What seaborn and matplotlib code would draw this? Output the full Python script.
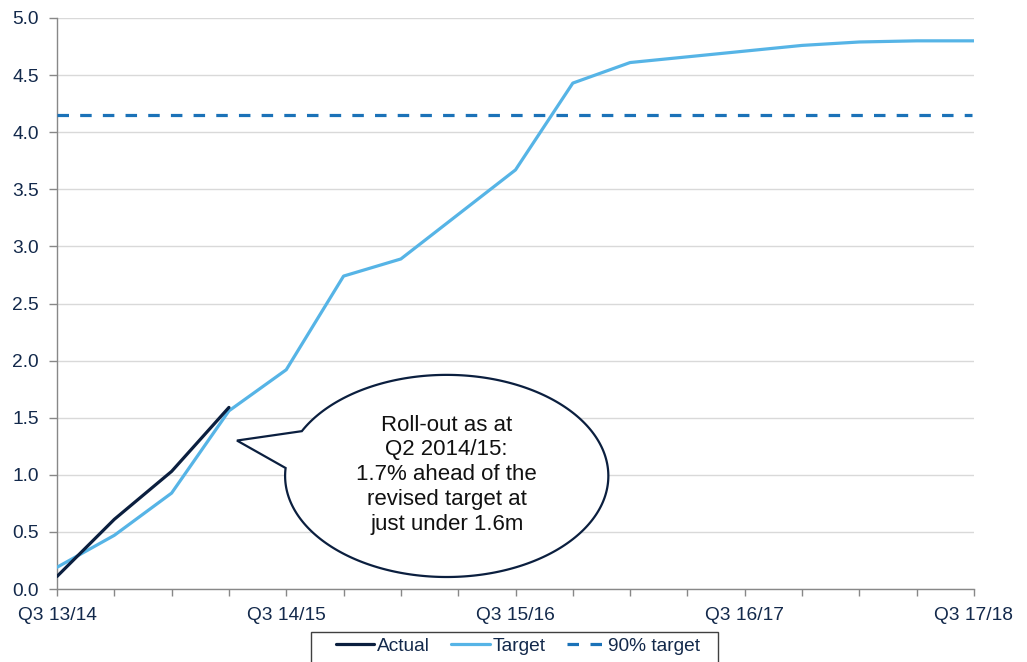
import numpy as np
import pandas as pd
import matplotlib
matplotlib.use("Agg")
import matplotlib.pyplot as plt
from matplotlib.patches import Polygon, Rectangle
from matplotlib.lines import Line2D
import seaborn as sns

# Quarterly roll-out, millions
quarters = ["Q3 13/14", "Q4 13/14", "Q1 14/15", "Q2 14/15", "Q3 14/15", "Q4 14/15",
            "Q1 15/16", "Q2 15/16", "Q3 15/16", "Q4 15/16", "Q1 16/17", "Q2 16/17",
            "Q3 16/17", "Q4 16/17", "Q1 17/18", "Q2 17/18", "Q3 17/18"]
actual = [0.11, 0.61, 1.03, 1.59]
target = [0.19, 0.47, 0.84, 1.56, 1.92, 2.74, 2.89, 3.28, 3.67, 4.43, 4.61,
          4.66, 4.71, 4.76, 4.79, 4.80, 4.80]
target_90 = 4.15
tick_labels = ["Q3 13/14", "Q3 14/15", "Q3 15/16", "Q3 16/17", "Q3 17/18"]
callout = "Roll-out as at\nQ2 2014/15:\n1.7% ahead of the\nrevised target at\njust under 1.6m"

NAVY = "#0B1F3F"
LIGHT = "#56B4E6"
MID = "#1B72B8"
TEXT = "#13294B"
FS = 13.8

sns.set_style("white")
plt.rcParams["font.family"] = ["Liberation Sans", "DejaVu Sans"]

fig = plt.figure(figsize=(10.27, 6.62), dpi=100)
ax = fig.add_axes([57 / 1027, 1 - 589 / 662, 917 / 1027, 571 / 662])

pos = np.arange(len(quarters))
df_target = pd.DataFrame({"q": pos, "v": target})
df_actual = pd.DataFrame({"q": pos[:len(actual)], "v": actual})
df_90 = pd.DataFrame({"q": [pos[0], pos[-1] - 0.03], "v": [target_90, target_90]})

sns.lineplot(data=df_target, x="q", y="v", color=LIGHT, lw=2.3, ax=ax, zorder=3)
sns.lineplot(data=df_actual, x="q", y="v", color=NAVY, lw=2.3, ax=ax, zorder=4)
sns.lineplot(data=df_90, x="q", y="v", color=MID, lw=2.3, ax=ax, zorder=3)
ax.lines[-1].set_dashes((3.6, 3.5))

ax.set_xlim(0, len(quarters) - 1)
ax.set_ylim(0, 5)
ax.set_xlabel("")
ax.set_ylabel("")
ax.set_yticks(np.arange(0, 5.01, 0.5))
ax.set_yticklabels([f"{v:.1f}" for v in np.arange(0, 5.01, 0.5)])
ax.set_xticks([quarters.index(t) for t in tick_labels])
ax.set_xticklabels(tick_labels)
ax.set_xticks(pos, minor=True)

ax.yaxis.grid(True, color="#D9D9D9", lw=1.0, zorder=0)
ax.xaxis.grid(False)
ax.set_axisbelow(True)
for side in ["top", "right"]:
    ax.spines[side].set_visible(False)
for side in ["left", "bottom"]:
    ax.spines[side].set_color("#888888")
    ax.spines[side].set_linewidth(1.0)

ax.tick_params(axis="y", which="major", direction="out", length=6, width=1,
               color="#888888", labelsize=FS, labelcolor=TEXT, pad=7, left=True)
ax.tick_params(axis="x", which="both", direction="out", length=5, width=1,
               color="#888888", labelsize=FS, labelcolor=TEXT, pad=8, bottom=True)

# Speech-bubble callout
cx, cy, rx, ry = 6.80, 0.99, 2.82, 0.885
tip = (3.14, 1.30)
t0, t1 = np.deg2rad(175.5), np.deg2rad(153.7 + 360)
theta = np.linspace(t0, t1, 300)
pts = np.column_stack([cx + rx * np.cos(theta), cy + ry * np.sin(theta)])
pts = np.vstack([pts, tip])
ax.add_patch(Polygon(pts, closed=True, facecolor="white", edgecolor=NAVY,
                     lw=1.6, zorder=6, joinstyle="miter"))
ax.text(cx, cy + 0.01, callout, ha="center", va="center", fontsize=16,
        color="#111111", linespacing=1.24, zorder=7)

# Legend below the axis, boxed
handles = [
    Line2D([], [], color=NAVY, lw=2.3),
    Line2D([], [], color=LIGHT, lw=2.3),
    Line2D([], [], color=MID, lw=2.3, dashes=(3.6, 3.6)),
]
fig.patches.append(Rectangle((311 / 1027, -0.02), 407 / 1027, 1 - 632 / 662 + 0.02,
                             transform=fig.transFigure, facecolor="white",
                             edgecolor="#404040", lw=1.0, zorder=1))
leg = fig.legend(handles, ["Actual", "Target", "90% target"], loc="center",
                 bbox_to_anchor=(518 / 1027, 1 - 646 / 662), ncol=3,
                 frameon=False, fontsize=FS, handlelength=2.0, handletextpad=0.15,
                 columnspacing=1.1, borderpad=0.2, borderaxespad=0)
leg.set_zorder(2)
for t in leg.get_texts():
    t.set_color(TEXT)

fig.savefig("out.png", dpi=100)
